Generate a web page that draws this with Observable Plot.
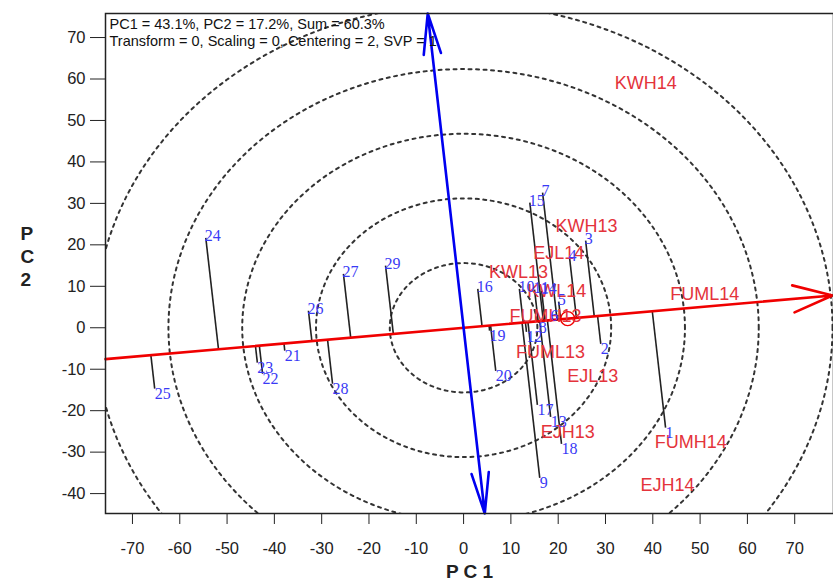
<!DOCTYPE html>
<html>
<head>
<meta charset="utf-8">
<script src="https://cdn.jsdelivr.net/npm/d3@7"></script>
<script src="https://cdn.jsdelivr.net/npm/@observablehq/plot@0.6"></script>
<style>
  html, body { margin: 0; padding: 0; background: #fff; }
</style>
</head>
<body>
<div id="chart"></div>
<script>
// ---- data ----
const genoLabels = ["1","2","3","4","5","6","7","8","9","10","11","12","13","14","15","16","17","18","19","20","21","22","23","24","25","26","27","28","29"];
const genoX = [42.7, 29.0, 25.8, 22.4, 20.1, 18.6, 16.7, 15.9, 16.1, 11.8, 15.0, 13.3, 18.4, 16.5, 14.0, 3.0, 15.6, 20.7, 5.5, 6.8, -37.8, -42.5, -43.6, -54.5, -65.3, -32.8, -25.4, -27.7, -16.5];
const genoY = [-24.1, -3.9, 21.0, 16.9, 6.3, 2.4, 32.6, 1.2, -36.2, 9.4, 9.2, -1.0, -21.5, 8.9, 30.2, 9.4, -18.6, -28.0, -0.7, -10.4, -5.5, -11.1, -8.4, 21.7, -14.7, 4.1, 13.0, -13.5, 15.0];

const envLabels = ["KWH14","KWH13","EJL14","KWL13","KWL14","FUMH13","FUML13","EJL13","EJH13","FUML14","FUMH14","EJH14"];
const envX = [38.5, 26.0, 20.1, 11.6, 19.7, 17.3, 18.4, 27.3, 22.0, 51.0, 48.0, 43.1];
const envY = [58.9, 24.6, 17.9, 13.3, 8.9, 2.7, -6.0, -11.8, -25.3, 8.2, -27.5, -38.1];

const avgEnv = [22.0, 2.2];              // average-environment coordinate (small red circle)
const circleRadii = [15.6, 31.2, 46.8, 62.4, 78.0];
const xTicks = [-70, -60, -50, -40, -30, -20, -10, 0, 10, 20, 30, 40, 50, 60, 70];
const yTicks = [-40, -30, -20, -10, 0, 10, 20, 30, 40, 50, 60, 70];
const xDomain = [-75.7, 78.2];
const yDomain = [-44.8, 75.8];
const headerText = "PC1 = 43.1%, PC2 = 17.2%, Sum = 60.3%\nTransform = 0, Scaling = 0, Centering = 2, SVP = 1";

// ---- derived geometry ----
const len = Math.hypot(avgEnv[0], avgEnv[1]);
const u = [avgEnv[0] / len, avgEnv[1] / len];      // ATC abscissa direction
const v = [-u[1], u[0]];                            // perpendicular (ATC ordinate)

const geno = genoLabels.map((g, i) => {
  const x = genoX[i], y = genoY[i];
  const t = x * u[0] + y * u[1];
  const side = u[0] * y - u[1] * x;
  return {g, x, y, fx: t * u[0], fy: t * u[1], above: side >= 0};
});
const env = envLabels.map((e, i) => ({e, x: envX[i], y: envY[i]}));

const circles = [];
circleRadii.forEach((r, k) => {
  for (let a = 0; a <= 360; a += 2) {
    const th = a * Math.PI / 180;
    circles.push({k, x: r * Math.cos(th), y: r * Math.sin(th)});
  }
});

const redLine = [{
  x1: xDomain[0], y1: xDomain[0] * u[1] / u[0],
  x2: xDomain[1] - 0.2, y2: (xDomain[1] - 0.2) * u[1] / u[0]
}];
const tTop = yDomain[1] / v[1], tBot = yDomain[0] / v[1];
const blueArrows = [
  {x1: 0, y1: 0, x2: tTop * v[0], y2: yDomain[1]},
  {x1: 0, y1: 0, x2: tBot * v[0], y2: yDomain[0]}
];

const RED = "#f00000";
const RED_TXT = "#e4333b";
const BLUE = "#0000f0";
const BLUE_TXT = "#3a3af5";

const chart = Plot.plot({
  width: 833,
  height: 585,
  marginLeft: 105,
  marginRight: 0,
  marginTop: 13,
  marginBottom: 72,
  style: {fontFamily: "'Liberation Sans', Arial, sans-serif", fontSize: "16.5px", color: "#222", background: "#fff", overflow: "visible"},
  x: {domain: xDomain, ticks: xTicks, tickSize: 11, tickPadding: 18, label: null, tickFormat: d => String(d)},
  y: {domain: yDomain, ticks: yTicks, tickSize: 15, tickPadding: 5, label: null, tickFormat: d => String(d)},
  marks: [
    Plot.line(circles, {x: "x", y: "y", z: "k", stroke: "#333", strokeWidth: 2, strokeDasharray: "3,4.5", clip: true}),
    Plot.link(geno, {x1: "x", y1: "y", x2: "fx", y2: "fy", stroke: "#222", strokeWidth: 1.6}),
    Plot.arrow(redLine, {x1: "x1", y1: "y1", x2: "x2", y2: "y2", stroke: RED, strokeWidth: 2.6, headLength: 24, headAngle: 38}),
    Plot.arrow(blueArrows, {x1: "x1", y1: "y1", x2: "x2", y2: "y2", stroke: BLUE, strokeWidth: 2.6, headLength: 24, headAngle: 24}),
    Plot.dot([avgEnv], {x: d => d[0], y: d => d[1], r: 7, stroke: RED, strokeWidth: 1.4, fill: "none"}),
    Plot.text(env, {x: "x", y: "y", text: "e", fill: RED_TXT, fontSize: 18, textAnchor: "middle"}),
    Plot.text(geno.filter(d => d.above), {x: "x", y: "y", text: "g", fill: BLUE_TXT, fontSize: 16, fontFamily: "'Liberation Serif', 'Times New Roman', serif", textAnchor: "start", lineAnchor: "bottom", dx: -1, dy: 3}),
    Plot.text(geno.filter(d => !d.above), {x: "x", y: "y", text: "g", fill: BLUE_TXT, fontSize: 16, fontFamily: "'Liberation Serif', 'Times New Roman', serif", textAnchor: "start", lineAnchor: "top", dx: 0, dy: -1}),
    Plot.text([headerText], {text: d => d, frameAnchor: "top-left", dx: 4, dy: 3, lineAnchor: "top", lineHeight: 1.2, fontSize: 14.5, fill: "#111"}),
    Plot.text(["P\nC\n2"], {text: d => d, frameAnchor: "left", dx: -85, dy: -8, fontSize: 19, fontWeight: "bold", fill: "#222", lineHeight: 1.2}),
    Plot.text(["P C 1"], {text: d => d, frameAnchor: "bottom", dy: 64, fontSize: 19, fontWeight: "bold", fill: "#222"}),
    Plot.frame({stroke: "#222", strokeWidth: 1.5})
  ]
});
document.getElementById("chart").appendChild(chart);
</script>
</body>
</html>
